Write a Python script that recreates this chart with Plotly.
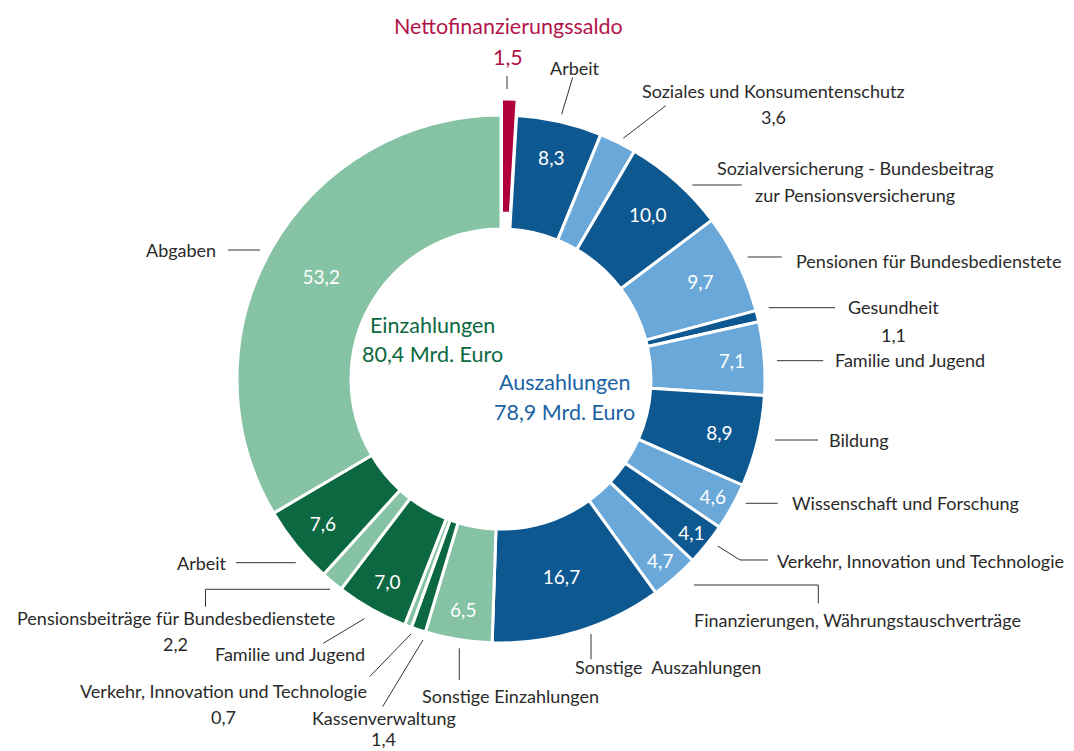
import plotly.graph_objects as go

W, H = 1074, 751

# ---------------- data ----------------
slice_ids = [
    "Nettofinanzierungssaldo",
    "Aus: Arbeit", "Aus: Soziales und Konsumentenschutz",
    "Aus: Sozialversicherung - Bundesbeitrag zur Pensionsversicherung",
    "Aus: Pensionen für Bundesbedienstete", "Aus: Gesundheit",
    "Aus: Familie und Jugend", "Aus: Bildung", "Aus: Wissenschaft und Forschung",
    "Aus: Verkehr, Innovation und Technologie",
    "Aus: Finanzierungen, Währungstauschverträge", "Aus: Sonstige Auszahlungen",
    "Ein: Sonstige Einzahlungen", "Ein: Kassenverwaltung",
    "Ein: Verkehr, Innovation und Technologie", "Ein: Familie und Jugend",
    "Ein: Pensionsbeiträge für Bundesbedienstete", "Ein: Arbeit", "Ein: Abgaben",
]
values = [1.5,
          8.3, 3.6, 10.0, 9.7, 1.1, 7.1, 8.9, 4.6, 4.1, 4.7, 16.7,
          6.5, 1.4, 0.7, 7.0, 2.2, 7.6, 53.2]
show_inside = [False,
               True, False, True, True, False, True, True, True, True, True, True,
               True, False, False, True, False, True, True]

RED = "#B0003C"
DBLUE = "#0E5891"
LBLUE = "#6AA8DA"
DGREEN = "#0B6841"
LGREEN = "#86C2A4"
colors = [RED,
          DBLUE, LBLUE, DBLUE, LBLUE, DBLUE, LBLUE, DBLUE, LBLUE, DBLUE, LBLUE, DBLUE,
          LGREEN, DGREEN, LGREEN, DGREEN, LGREEN, DGREEN, LGREEN]
pulls = [0.061] + [0] * 18

total_ein = "80,4 Mrd. Euro"
total_aus = "78,9 Mrd. Euro"


def de(v):
    return f"{v:.1f}".replace(".", ",")


inside_text = [de(v) if s else "" for v, s in zip(values, show_inside)]

# ---------------- geometry ----------------
CX, CY, R = 501, 379, 264
MAXPULL = max(pulls)
half = R * (1 + MAXPULL)
dom_x = [(CX - half) / W, (CX + half) / W]
dom_y = [1 - (CY + half) / H, 1 - (CY - half) / H]

FONT = "Lato"
TXT = "#2a2a2a"
LS = 18  # label font size

fig = go.Figure(go.Pie(
    labels=slice_ids, values=values, sort=False, direction="clockwise",
    rotation=0, hole=150 / 264, pull=pulls,
    marker=dict(colors=colors, line=dict(color="white", width=3)),
    text=inside_text, textinfo="text", textposition="inside",
    insidetextorientation="horizontal",
    insidetextfont=dict(color="white", size=19, family=FONT),
    hoverinfo="label+value", showlegend=False,
    domain=dict(x=dom_x, y=dom_y),
))


def px(x, y):
    return x / W, 1 - y / H


annots = []


def label(text, x, y, color=TXT, size=LS):
    ax, ay = px(x, y)
    annots.append(dict(text=text, x=ax, y=ay, xref="paper", yref="paper",
                       xanchor="center", yanchor="middle", showarrow=False,
                       font=dict(family=FONT, size=size, color=color)))


# outside labels (text, x, y)
label("Nettofinanzierungssaldo", 508, 26, "#B3144A", 21.5)
label("1,5", 508, 57, "#B3144A", 21.5)
label("Arbeit", 575, 68)
label("Soziales und Konsumentenschutz", 773, 91)
label("3,6", 773, 117)
label("Sozialversicherung - Bundesbeitrag", 855, 168)
label("zur Pensionsversicherung", 855, 195)
label("Pensionen für Bundesbedienstete", 929, 261)
label("Gesundheit", 893, 307)
label("1,1", 893, 335)
label("Familie und Jugend", 910, 360)
label("Bildung", 859, 440)
label("Wissenschaft und Forschung", 905, 503)
label("Verkehr, Innovation und Technologie", 920, 561)
label("Finanzierungen, Währungstauschverträge", 857, 620)
label("Sonstige\u00a0 Auszahlungen", 668, 667)
label("Sonstige Einzahlungen", 510, 696)
label("Kassenverwaltung", 384, 718)
label("1,4", 383, 739)
label("Verkehr, Innovation und Technologie", 223, 691)
label("0,7", 223, 717)
label("Familie und Jugend", 290, 654)
label("Pensionsbeiträge für Bundesbedienstete", 176, 618)
label("2,2", 175, 644)
label("Arbeit", 202, 563)
label("Abgaben", 181, 250)

# center labels
label("Einzahlungen", 432, 325, DGREEN, 21.5)
label(total_ein, 432, 354, DGREEN, 21.5)
label("Auszahlungen", 564, 382, "#1B62A3", 21.5)
label(total_aus, 564, 412, "#1B62A3", 21.5)

leaders = [
    [(507, 76), (507, 89)],
    [(572.7, 77.3), (561.7, 114.3)],
    [(665.7, 105.7), (623.3, 138.3)],
    [(692.3, 185), (741.7, 185)],
    [(747.7, 257), (781.7, 257)],
    [(768.7, 307.7), (835, 307.7)],
    [(777, 360.7), (823.3, 360.7)],
    [(775, 440), (818, 440)],
    [(745.7, 503.3), (777.7, 503.3)],
    [(717.7, 546), (740, 560), (768.3, 560)],
    [(694, 585), (818.3, 585), (818.3, 603.3)],
    [(591, 634), (591, 659.3)],
    [(459.3, 648.3), (459.3, 680)],
    [(382.6, 706.7), (423, 640)],
    [(369.6, 676.7), (411, 634)],
    [(323.3, 643.3), (364.4, 618.7)],
    [(205.5, 606.7), (205.5, 589.3), (330, 589.3)],
    [(236, 562.7), (295.7, 562.7)],
    [(228, 250), (260, 250)],
]
shapes = []
for pts in leaders:
    path = ""
    for i, (x, y) in enumerate(pts):
        a, b = px(x, y)
        path += ("M" if i == 0 else " L") + f" {a:.5f},{b:.5f}"
    shapes.append(dict(type="path", path=path, xref="paper", yref="paper",
                       line=dict(color="#333333", width=1)))

fig.update_layout(
    width=W, height=H, autosize=False,
    margin=dict(l=0, r=0, t=0, b=0),
    paper_bgcolor="white", plot_bgcolor="white",
    annotations=annots, shapes=shapes,
    uniformtext=dict(minsize=19, mode="show"),
    font=dict(family=FONT),
)

fig.write_html("out.html", config={"displayModeBar": False},
               post_script="document.body.style.margin='0';document.body.style.padding='0';")
